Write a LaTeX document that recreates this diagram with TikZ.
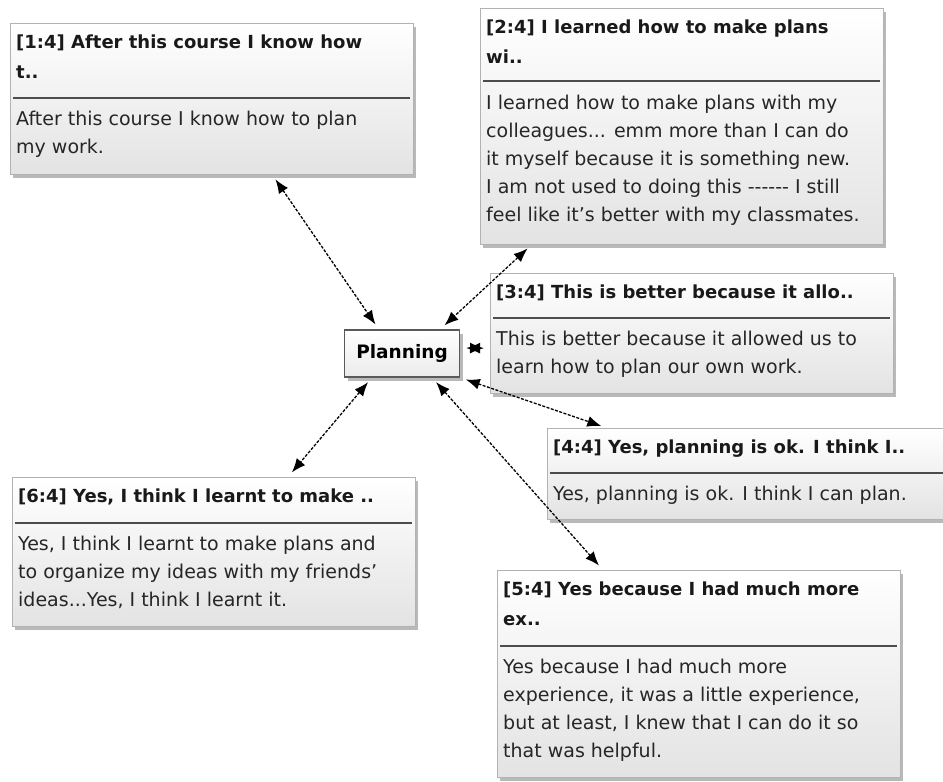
\documentclass[tikz,border=0pt]{standalone}
\usepackage{fontspec}
\setmainfont{DejaVu Sans}
\usetikzlibrary{arrows.meta, shadows}

\begin{document}
\begin{tikzpicture}[x=1pt, y=-1pt,
    memo/.style={rectangle, draw=black!30, top color=white, bottom color=black!11, minimum width=403pt, anchor=north west, inner sep=0pt,
      drop shadow={shadow xshift=3pt, shadow yshift=-4pt, opacity=0.55}},
    memohead/.style={anchor=north west, inner sep=0pt, align=left, text=black!90, font=\bfseries\fontsize{18}{30}\selectfont},
    memobody/.style={anchor=north west, inner sep=0pt, align=left, text=black!85, font=\fontsize{19}{28}\selectfont},
    sepline/.style={black!70, line width=1.5pt},
    hub/.style={rectangle, draw=black!65, line width=1.2pt, top color=white, bottom color=black!8, minimum width=115pt, minimum height=47pt,
      font=\bfseries\fontsize{18.5}{22}\selectfont, drop shadow={shadow xshift=3pt, shadow yshift=-4pt, opacity=0.55}},
    link/.style={{Latex[length=14pt,width=11pt]}-{Latex[length=14pt,width=11pt]}, dash pattern=on 3pt off 1.5pt, line width=1.3pt, shorten <=6pt, shorten >=6pt}]

  \useasboundingbox (0,0) rectangle (943,782);

  % Code in the middle
  \node[hub] (plan) at (402,353.5) {Planning};

  % Quote 1
  \node[memo, minimum height=151pt] (q1) at (10,23) {};
  \node[memohead] (q1h) at ([xshift=6pt,yshift=-12pt]q1.north west) {[1:4] After this course I know how\\t..};
  \draw[sepline] ([xshift=3pt,yshift=-75pt]q1.north west) -- ([xshift=-3pt,yshift=-75pt]q1.north east);
  \node[memobody] (q1b) at ([xshift=6pt,yshift=-87.6pt]q1.north west) {After this course I know how to plan\\my work.};

  % Quote 2
  \node[memo, minimum height=236pt] (q2) at (480,8) {};
  \node[memohead] (q2h) at ([xshift=6pt,yshift=-12pt]q2.north west) {[2:4] I learned how to make plans\\wi..};
  \draw[sepline] ([xshift=3pt,yshift=-73pt]q2.north west) -- ([xshift=-3pt,yshift=-73pt]q2.north east);
  \node[memobody] (q2b) at ([xshift=6pt,yshift=-86.6pt]q2.north west)
    {I learned how to make plans with my\\colleagues... emm more than I can do\\it myself because it is something new.\\I am not used to doing this -\kern0pt-\kern0pt-\kern0pt-\kern0pt-\kern0pt- I still\\feel like it's better with my classmates.};

  % Quote 3
  \node[memo, minimum height=120pt] (q3) at (490,273) {};
  \node[memohead] (q3h) at ([xshift=6pt,yshift=-12pt]q3.north west) {[3:4] This is better because it allo..};
  \draw[sepline] ([xshift=3pt,yshift=-45pt]q3.north west) -- ([xshift=-3pt,yshift=-45pt]q3.north east);
  \node[memobody] (q3b) at ([xshift=6pt,yshift=-57.6pt]q3.north west) {This is better because it allowed us to\\learn how to plan our own work.};

  % Quote 4
  \node[memo, minimum height=91pt] (q4) at (547,428) {};
  \node[memohead] (q4h) at ([xshift=6pt,yshift=-12pt]q4.north west) {[4:4] Yes, planning is ok. I think I..};
  \draw[sepline] ([xshift=3pt,yshift=-45pt]q4.north west) -- ([xshift=-3pt,yshift=-45pt]q4.north east);
  \node[memobody] (q4b) at ([xshift=6pt,yshift=-57.6pt]q4.north west) {Yes, planning is ok. I think I can plan.};

  % Quote 5
  \node[memo, minimum height=207pt] (q5) at (497,570) {};
  \node[memohead] (q5h) at ([xshift=6pt,yshift=-12pt]q5.north west) {[5:4] Yes because I had much more\\ex..};
  \draw[sepline] ([xshift=3pt,yshift=-76pt]q5.north west) -- ([xshift=-3pt,yshift=-76pt]q5.north east);
  \node[memobody] (q5b) at ([xshift=6pt,yshift=-88.6pt]q5.north west)
    {Yes because I had much more\\experience, it was a little experience,\\but at least, I knew that I can do it so\\that was helpful.};

  % Quote 6
  \node[memo, minimum height=149pt] (q6) at (12,477) {};
  \node[memohead] (q6h) at ([xshift=6pt,yshift=-12pt]q6.north west) {[6:4] Yes, I think I learnt to make ..};
  \draw[sepline] ([xshift=3pt,yshift=-46pt]q6.north west) -- ([xshift=-3pt,yshift=-46pt]q6.north east);
  \node[memobody] (q6b) at ([xshift=6pt,yshift=-58.6pt]q6.north west)
    {Yes, I think I learnt to make plans and\\to organize my ideas with my friends'\\ideas...Yes, I think I learnt it.};

  % Links
  \draw[link] ([xshift=262pt]q1.south west) -- ([xshift=35pt]plan.north west);
  \draw[link] ([xshift=52pt]q2.south west) -- ([xshift=-20pt]plan.north east);
  \draw[link] ([yshift=5.5pt]plan.east) -- ([yshift=-15pt]q3.west);
  \draw[link] (plan.south east) -- ([xshift=60pt]q4.north west);
  \draw[link] ([xshift=-28pt]plan.south east) -- ([xshift=106pt]q5.north west);
  \draw[link] ([xshift=28pt]plan.south west) -- ([xshift=276pt]q6.north west);
\end{tikzpicture}
\end{document}
